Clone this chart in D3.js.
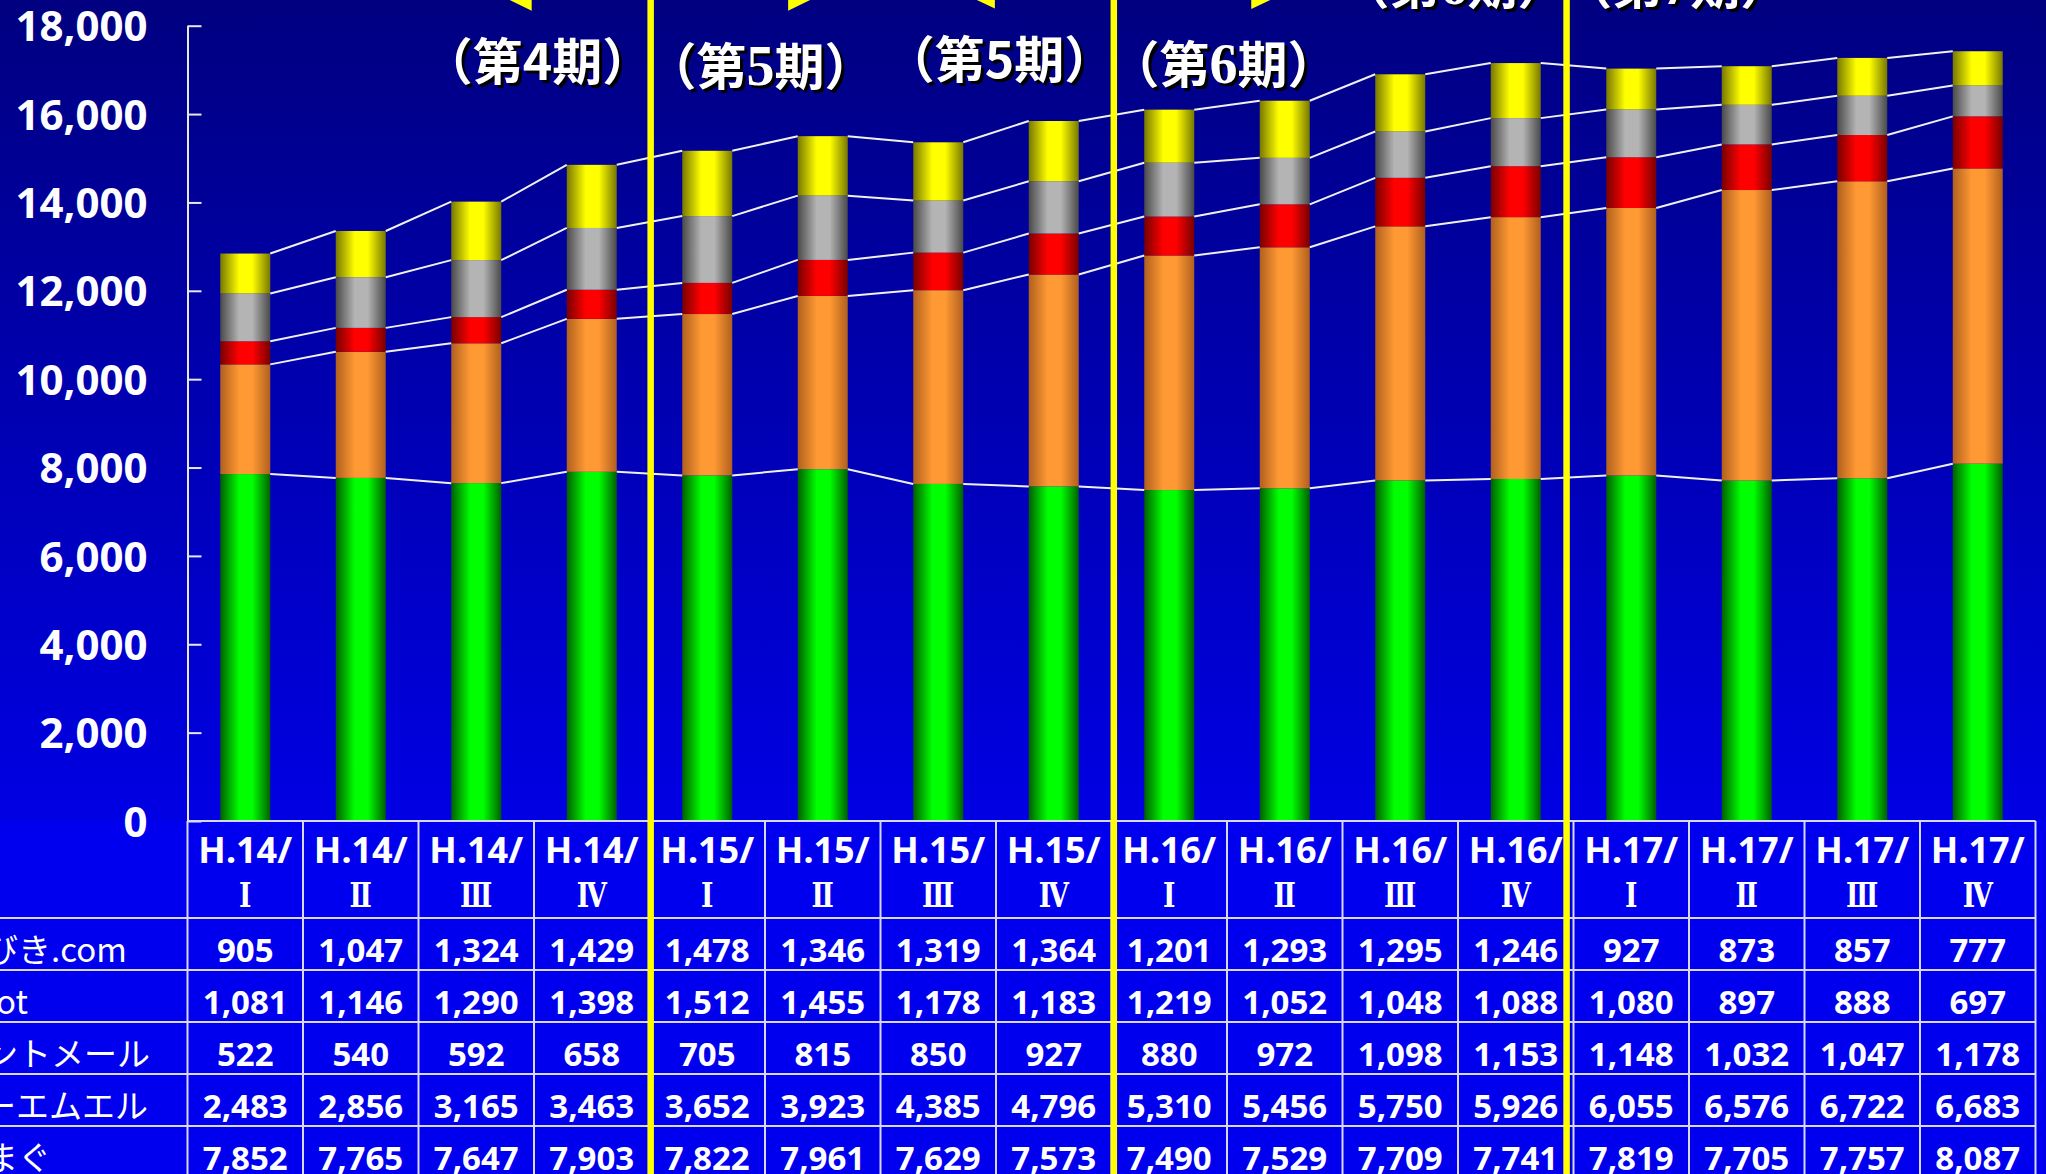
<!DOCTYPE html>
<html>
<head>
<meta charset="utf-8">
<script src="https://cdn.jsdelivr.net/npm/d3@7/dist/d3.min.js"></script>
<style>
	body { margin: 0; overflow: hidden; background: #0000ee; }
	text { fill: #fff; }
</style>
</head>
<body>
<div id="chart-area"></div>
<script>

// Quarters (H.14 - H.17)
var categories = ["H.14/Ⅰ", "H.14/Ⅱ", "H.14/Ⅲ", "H.14/Ⅳ",
	"H.15/Ⅰ", "H.15/Ⅱ", "H.15/Ⅲ", "H.15/Ⅳ",
	"H.16/Ⅰ", "H.16/Ⅱ", "H.16/Ⅲ", "H.16/Ⅳ",
	"H.17/Ⅰ", "H.17/Ⅱ", "H.17/Ⅲ", "H.17/Ⅳ"];

// Row labels, in table order (top row = top of the stack)
var seriesNames = ["まがびき.com", "Cocoot", "ポイントメール", "ティーエムエル", "まぐまぐ"];

var valuesBiki  = [905, 1047, 1324, 1429, 1478, 1346, 1319, 1364, 1201, 1293, 1295, 1246, 927, 873, 857, 777];
var valuesOt    = [1081, 1146, 1290, 1398, 1512, 1455, 1178, 1183, 1219, 1052, 1048, 1088, 1080, 897, 888, 697];
var valuesPoint = [522, 540, 592, 658, 705, 815, 850, 927, 880, 972, 1098, 1153, 1148, 1032, 1047, 1178];
var valuesTml   = [2483, 2856, 3165, 3463, 3652, 3923, 4385, 4796, 5310, 5456, 5750, 5926, 6055, 6576, 6722, 6683];
var valuesMag   = [7852, 7765, 7647, 7903, 7822, 7961, 7629, 7573, 7490, 7529, 7709, 7741, 7819, 7705, 7757, 8087];

var yTicks = [0, 2000, 4000, 6000, 8000, 10000, 12000, 14000, 16000, 18000];

// period captions at the top
var periodLabels = ["（第4期）", "（第5期）", "（第5期）", "（第6期）", "（第6期）", "（第7期）"];

// ---- layout / styles ----
var W = 2046, H = 1174;
var seriesColors = [          // [dark edge, bright centre], same order as seriesNames
	["#787800", "#ffff00"],
	["#4a4a4a", "#b4b4b4"],
	["#780000", "#ff0000"],
	["#b0601e", "#ff9933"],
	["#006000", "#00ff00"]
];
// caption positions in column units and baselines
var periodPos  = [3.03, 4.96, 7.03, 8.97, 10.96, 12.89];
var periodBase = [80, 85, 78, 83, 4, 4];
var periodSerif = [false, true, false, true, true, true];
// arrow heads poking in from the top: column unit of the base, direction, length, drop
var arrowHeads = [
	{u: 2.98, dir: -1, len: 22, drop: 10.7},
	{u: 5.20, dir: 1, len: 22, drop: 10.7},
	{u: 6.99, dir: -1, len: 18, drop: 8.5},
	{u: 9.21, dir: 1, len: 19, drop: 9}
];
var dividers = [4.01, 8.02, 11.94];

var headerH = 97, rowH = 52;
var numFont = "'Noto Sans', 'DejaVu Sans', sans-serif";
var jpFont = "'Noto Sans CJK JP', 'Noto Sans', sans-serif";
var serifFont = "'DejaVu Serif', 'Liberation Serif', serif";

var svg = d3.select("#chart-area").append("svg")
	.attr("width", W)
	.attr("height", H);

var defs = svg.append("defs");

// background
var bg = defs.append("linearGradient")
	.attr("id", "bg")
	.attr("x1", 0).attr("y1", 0).attr("x2", 0).attr("y2", 1);
bg.append("stop").attr("offset", 0).attr("stop-color", "#000080");
bg.append("stop").attr("offset", 1).attr("stop-color", "#0000e4");

// scales
var x = d3.scaleBand()
	.domain(categories)
	.range([187.5, 2035.5])
	.padding(0);

var y = d3.scaleLinear()
	.domain([0, 18000])
	.range([821, 25.7]);

var colX = function(u) { return x.range()[0] + u * x.step(); };
var barW = 50;

svg.append("rect")
	.attr("width", W)
	.attr("height", y(0))
	.attr("fill", "url(#bg)");

svg.append("rect")
	.attr("y", y(0))
	.attr("width", W)
	.attr("height", H - y(0))
	.attr("fill", "#0000ee");

// cylinder-like gradients
seriesColors.forEach(function(c, i) {
	var g = defs.append("linearGradient").attr("id", "bar" + i);
	g.append("stop").attr("offset", 0).attr("stop-color", c[0]);
	g.append("stop").attr("offset", 0.38).attr("stop-color", c[1]);
	g.append("stop").attr("offset", 0.64).attr("stop-color", c[1]);
	g.append("stop").attr("offset", 1).attr("stop-color", c[0]);
});

// build rows for the stack
var seriesValues = [valuesBiki, valuesOt, valuesPoint, valuesTml, valuesMag];
var rows = categories.map(function(c, i) {
	var r = {cat: c};
	seriesNames.forEach(function(s, j) { r[s] = seriesValues[j][i]; });
	return r;
});

var stackKeys = seriesNames.slice().reverse();
var stacked = d3.stack().keys(stackKeys)(rows);

// bars
var layers = svg.selectAll(".layer")
	.data(stacked)
	.enter()
	.append("g")
	.attr("class", "layer")
	.attr("fill", function(d) { return "url(#bar" + seriesNames.indexOf(d.key) + ")"; });

layers.selectAll("rect")
	.data(function(d) { return d; })
	.enter()
	.append("rect")
	.attr("x", function(d) { return x(d.data.cat) + x.bandwidth() / 2 - barW / 2; })
	.attr("width", barW)
	.attr("y", function(d) { return y(d[1]); })
	.attr("height", function(d) { return y(d[0]) - y(d[1]); });

// series lines between bars
stacked.forEach(function(layer) {
	for (var i = 0; i < layer.length - 1; i++) {
		svg.append("line")
			.attr("x1", x(categories[i]) + x.bandwidth() / 2 + barW / 2)
			.attr("y1", y(layer[i][1]))
			.attr("x2", x(categories[i + 1]) + x.bandwidth() / 2 - barW / 2)
			.attr("y2", y(layer[i + 1][1]))
			.attr("stroke", "#f0f0f0")
			.attr("stroke-width", 2);
	}
});

// y axis
var yAxis = d3.axisLeft(y)
	.tickValues(yTicks)
	.tickFormat(d3.format(","))
	.tickSizeInner(-14)
	.tickSizeOuter(0)
	.tickPadding(40);

var axisG = svg.append("g")
	.attr("class", "axis yAxis")
	.attr("transform", "translate(" + x.range()[0] + ",0)")
	.call(yAxis);

axisG.select(".domain").attr("stroke", "#e8e8e8").attr("stroke-width", 2);
axisG.selectAll(".tick line").attr("stroke", "#e8e8e8").attr("stroke-width", 2);
axisG.selectAll(".tick text")
	.attr("fill", "#fff")
	.attr("font-family", numFont)
	.attr("font-weight", "bold")
	.attr("font-size", 42)
	.attr("dy", "0.36em");

// data table
var tableTop = y(0);
var gridColor = "#d8d8f4";
var table = svg.append("g").attr("class", "table");

table.append("line")
	.attr("x1", x.range()[0]).attr("x2", x.range()[1])
	.attr("y1", tableTop).attr("y2", tableTop)
	.attr("stroke", gridColor).attr("stroke-width", 2);

seriesNames.forEach(function(s, j) {
	var top = tableTop + headerH + j * rowH;
	table.append("line")
		.attr("x1", 0).attr("x2", x.range()[1])
		.attr("y1", top).attr("y2", top)
		.attr("stroke", gridColor).attr("stroke-width", 2);

	table.append("text")
		.attr("x", -81)
		.attr("y", top + 44)
		.attr("font-family", jpFont)
		.attr("font-size", 33)
		.text(s);

	table.selectAll(".v" + j)
		.data(seriesValues[j])
		.enter()
		.append("text")
		.attr("class", "v" + j)
		.attr("x", function(d, i) { return x(categories[i]) + x.bandwidth() / 2; })
		.attr("y", top + 44)
		.attr("text-anchor", "middle")
		.attr("font-family", numFont)
		.attr("font-weight", "bold")
		.attr("font-size", 33)
		.text(function(d) { return d3.format(",")(d); });
});

d3.range(categories.length + 1).forEach(function(i) {
	table.append("line")
		.attr("x1", colX(i)).attr("x2", colX(i))
		.attr("y1", tableTop).attr("y2", H)
		.attr("stroke", gridColor).attr("stroke-width", 2);
});

// header cells: year on the first line, roman numeral below
table.selectAll(".head")
	.data(categories)
	.enter()
	.append("text")
	.attr("class", "head")
	.attr("x", function(d) { return x(d) + x.bandwidth() / 2; })
	.attr("y", tableTop + 42)
	.attr("text-anchor", "middle")
	.attr("font-family", numFont)
	.attr("font-weight", "bold")
	.attr("font-size", 36)
	.text(function(d) { return d.split("/")[0] + "/"; });

table.selectAll(".quarter")
	.data(categories)
	.enter()
	.append("text")
	.attr("class", "quarter")
	.attr("transform", function(d) { return "translate(" + (x(d) + x.bandwidth() / 2) + "," + (tableTop + 86) + ") scale(0.78,1)"; })
	.attr("text-anchor", "middle")
	.attr("font-family", serifFont)
	.attr("font-weight", "bold")
	.attr("font-size", 34)
	.text(function(d) { return d.split("/")[1]; });

// period captions with a drop shadow
var captions = svg.selectAll(".period")
	.data(periodLabels)
	.enter()
	.append("g")
	.attr("class", "period")
	.attr("transform", function(d, i) { return "translate(" + colX(periodPos[i]) + "," + periodBase[i] + ")"; });

[["#000", 3], ["#fff", 0]].forEach(function(p) {
	var t = captions.append("text")
		.attr("x", p[1]).attr("y", p[1])
		.attr("text-anchor", "middle")
		.attr("font-family", jpFont)
		.attr("font-weight", "bold")
		.attr("font-size", 50)
		.style("fill", p[0]);
	t.each(function(d, i) {
		var el = d3.select(this);
		el.append("tspan").text(d.slice(0, 2));
		el.append("tspan")
			.attr("font-family", periodSerif[i] ? "'Liberation Serif', 'DejaVu Serif', serif" : jpFont)
			.attr("font-size", periodSerif[i] ? 56 : 50)
			.text(d.slice(2, 3));
		el.append("tspan").text(d.slice(3));
	});
});

// arrow heads
svg.selectAll(".arrow")
	.data(arrowHeads)
	.enter()
	.append("path")
	.attr("class", "arrow")
	.attr("fill", "#ffff00")
	.attr("d", function(d) {
		var bx = colX(d.u);
		return "M" + bx + ",0L" + (bx + d.dir * d.len) + ",0L" + bx + "," + d.drop + "Z";
	});

// yellow dividers between fiscal years
svg.selectAll(".divider")
	.data(dividers)
	.enter()
	.append("rect")
	.attr("class", "divider")
	.attr("x", function(d) { return colX(d) - 3.25; })
	.attr("y", 0)
	.attr("width", 6.5)
	.attr("height", H)
	.attr("fill", "#ffff00");

</script>
</body>
</html>
